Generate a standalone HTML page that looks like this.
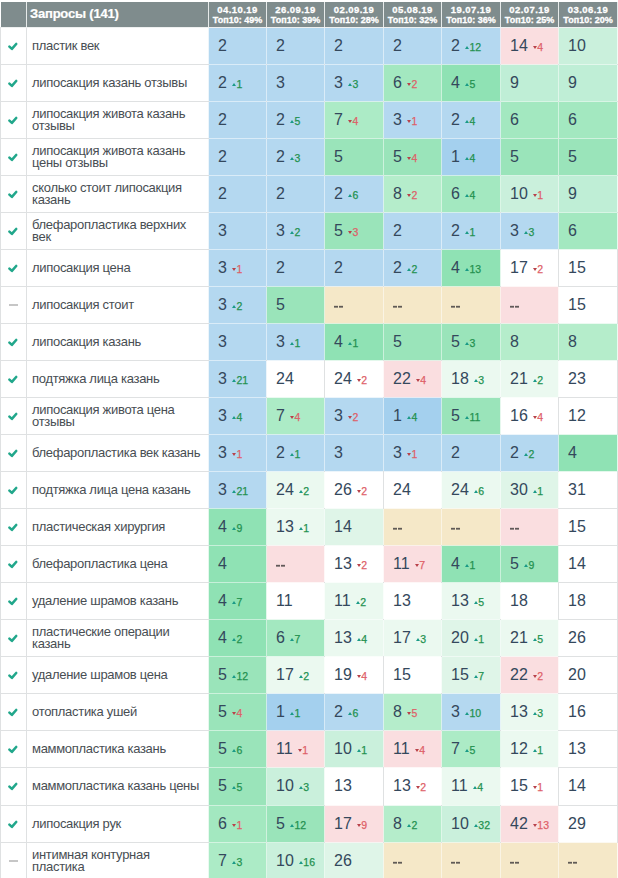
<!DOCTYPE html><html><head><meta charset="utf-8"><style>
*{margin:0;padding:0;box-sizing:border-box}
html,body{width:618px;height:878px;overflow:hidden;background:#fff}
body{position:relative;font-family:"Liberation Sans",sans-serif}
.a{position:absolute}
.hd{position:absolute;background:#7f8c8d;color:#fff;font-weight:bold}
.vl{position:absolute;width:1px;background:#dfe1e2}
.hl{position:absolute;height:1px;background:#dfe1e2}
.q{position:absolute;color:#484e53;font-size:13px;line-height:11.6px;white-space:nowrap;letter-spacing:-0.3px}
.n{position:absolute;color:#34485c;font-size:16px;line-height:16px;white-space:nowrap}
.d{font-size:10.5px;position:relative;margin-left:1.1px}
.up{color:#23914f;-webkit-text-stroke:0.25px #23914f}.dn{color:#de6068;-webkit-text-stroke:0.25px #de6068}
.tri{display:inline-block;width:0;height:0;border-left:2px solid transparent;border-right:2px solid transparent;vertical-align:baseline;position:relative}
.up .tri{border-bottom:3px solid #1a9a86;top:-2px;margin-right:0}
.dn .tri{border-top:3px solid #b8424a;top:-2px;margin-right:0}
.dd{width:4px;height:3px;background:linear-gradient(rgba(70,66,66,.15) 0,rgba(70,66,66,.15) 1px,rgba(70,66,66,.85) 1px,rgba(70,66,66,.85) 2px,rgba(70,66,66,.55) 2px)}
.dash{position:absolute;color:#333;font-size:11px;line-height:11px;letter-spacing:0.5px}
</style></head><body>

<div class="hd" style="left:1px;top:2px;width:25px;height:25px"></div>
<div class="hd" style="left:27px;top:2px;width:181px;height:25px"></div>
<div class="a" style="left:30px;top:7px;color:#fff;font-weight:bold;font-size:13px;line-height:13px;white-space:nowrap;letter-spacing:-0.2px;-webkit-text-stroke:0.2px #fff">Запросы (141)</div>
<div class="hd" style="left:209px;top:2px;width:57px;height:25px"></div>
<div class="a" style="left:209px;top:5px;width:57px;text-align:center;color:#fff;font-weight:bold;font-size:9.5px;line-height:9px;letter-spacing:0.45px;-webkit-text-stroke:0.3px #fff">04.10.19</div>
<div class="a" style="left:209px;top:15.5px;width:57px;text-align:center;color:#fff;font-weight:bold;font-size:9px;line-height:9px;-webkit-text-stroke:0.3px #fff">Топ10: 49%</div>
<div class="hd" style="left:267px;top:2px;width:57px;height:25px"></div>
<div class="a" style="left:267px;top:5px;width:57px;text-align:center;color:#fff;font-weight:bold;font-size:9.5px;line-height:9px;letter-spacing:0.45px;-webkit-text-stroke:0.3px #fff">26.09.19</div>
<div class="a" style="left:267px;top:15.5px;width:57px;text-align:center;color:#fff;font-weight:bold;font-size:9px;line-height:9px;-webkit-text-stroke:0.3px #fff">Топ10: 39%</div>
<div class="hd" style="left:325px;top:2px;width:58px;height:25px"></div>
<div class="a" style="left:325px;top:5px;width:58px;text-align:center;color:#fff;font-weight:bold;font-size:9.5px;line-height:9px;letter-spacing:0.45px;-webkit-text-stroke:0.3px #fff">02.09.19</div>
<div class="a" style="left:325px;top:15.5px;width:58px;text-align:center;color:#fff;font-weight:bold;font-size:9px;line-height:9px;-webkit-text-stroke:0.3px #fff">Топ10: 28%</div>
<div class="hd" style="left:384px;top:2px;width:57px;height:25px"></div>
<div class="a" style="left:384px;top:5px;width:57px;text-align:center;color:#fff;font-weight:bold;font-size:9.5px;line-height:9px;letter-spacing:0.45px;-webkit-text-stroke:0.3px #fff">05.08.19</div>
<div class="a" style="left:384px;top:15.5px;width:57px;text-align:center;color:#fff;font-weight:bold;font-size:9px;line-height:9px;-webkit-text-stroke:0.3px #fff">Топ10: 32%</div>
<div class="hd" style="left:442px;top:2px;width:58px;height:25px"></div>
<div class="a" style="left:442px;top:5px;width:58px;text-align:center;color:#fff;font-weight:bold;font-size:9.5px;line-height:9px;letter-spacing:0.45px;-webkit-text-stroke:0.3px #fff">19.07.19</div>
<div class="a" style="left:442px;top:15.5px;width:58px;text-align:center;color:#fff;font-weight:bold;font-size:9px;line-height:9px;-webkit-text-stroke:0.3px #fff">Топ10: 36%</div>
<div class="hd" style="left:501px;top:2px;width:57px;height:25px"></div>
<div class="a" style="left:501px;top:5px;width:57px;text-align:center;color:#fff;font-weight:bold;font-size:9.5px;line-height:9px;letter-spacing:0.45px;-webkit-text-stroke:0.3px #fff">02.07.19</div>
<div class="a" style="left:501px;top:15.5px;width:57px;text-align:center;color:#fff;font-weight:bold;font-size:9px;line-height:9px;-webkit-text-stroke:0.3px #fff">Топ10: 25%</div>
<div class="hd" style="left:559px;top:2px;width:58px;height:25px"></div>
<div class="a" style="left:559px;top:5px;width:58px;text-align:center;color:#fff;font-weight:bold;font-size:9.5px;line-height:9px;letter-spacing:0.45px;-webkit-text-stroke:0.3px #fff">03.06.19</div>
<div class="a" style="left:559px;top:15.5px;width:58px;text-align:center;color:#fff;font-weight:bold;font-size:9px;line-height:9px;-webkit-text-stroke:0.3px #fff">Топ10: 20%</div>
<div class="a" style="left:209px;top:28px;width:57px;height:36px;background:#b4d8f0"></div>
<div class="n" style="left:218px;top:37.5px">2</div>
<div class="a" style="left:267px;top:28px;width:57px;height:36px;background:#b4d8f0"></div>
<div class="n" style="left:276px;top:37.5px">2</div>
<div class="a" style="left:325px;top:28px;width:58px;height:36px;background:#b4d8f0"></div>
<div class="n" style="left:334px;top:37.5px">2</div>
<div class="a" style="left:384px;top:28px;width:57px;height:36px;background:#b4d8f0"></div>
<div class="n" style="left:393px;top:37.5px">2</div>
<div class="a" style="left:442px;top:28px;width:58px;height:36px;background:#b4d8f0"></div>
<div class="n" style="left:451px;top:37.5px">2 <span class="d up"><i class="tri"></i>12</span></div>
<div class="a" style="left:501px;top:28px;width:57px;height:36px;background:#fadee0"></div>
<div class="n" style="left:510px;top:37.5px">14 <span class="d dn"><i class="tri"></i>4</span></div>
<div class="a" style="left:559px;top:28px;width:58px;height:36px;background:#caf0dc"></div>
<div class="n" style="left:568px;top:37.5px">10</div>
<svg class="a" style="left:0;top:27px" width="26" height="36" viewBox="0 0 26 36"><polyline points="9.4,19.6 11.9,21.9 16.2,17.0" fill="none" stroke="#21a78b" stroke-width="2.6" stroke-linecap="round" stroke-linejoin="round"/></svg>
<div class="q" style="left:32px;top:40px">пластик век</div>
<div class="a" style="left:209px;top:65px;width:57px;height:36px;background:#b4d8f0"></div>
<div class="n" style="left:218px;top:74.5px">2 <span class="d up"><i class="tri"></i>1</span></div>
<div class="a" style="left:267px;top:65px;width:57px;height:36px;background:#b4d8f0"></div>
<div class="n" style="left:276px;top:74.5px">3</div>
<div class="a" style="left:325px;top:65px;width:58px;height:36px;background:#b4d8f0"></div>
<div class="n" style="left:334px;top:74.5px">3 <span class="d up"><i class="tri"></i>3</span></div>
<div class="a" style="left:384px;top:65px;width:57px;height:36px;background:#a3e8c0"></div>
<div class="n" style="left:393px;top:74.5px">6 <span class="d dn"><i class="tri"></i>2</span></div>
<div class="a" style="left:442px;top:65px;width:58px;height:36px;background:#8fe2b4"></div>
<div class="n" style="left:451px;top:74.5px">4 <span class="d up"><i class="tri"></i>5</span></div>
<div class="a" style="left:501px;top:65px;width:57px;height:36px;background:#bfeed6"></div>
<div class="n" style="left:510px;top:74.5px">9</div>
<div class="a" style="left:559px;top:65px;width:58px;height:36px;background:#bfeed6"></div>
<div class="n" style="left:568px;top:74.5px">9</div>
<svg class="a" style="left:0;top:64px" width="26" height="36" viewBox="0 0 26 36"><polyline points="9.4,19.6 11.9,21.9 16.2,17.0" fill="none" stroke="#21a78b" stroke-width="2.6" stroke-linecap="round" stroke-linejoin="round"/></svg>
<div class="q" style="left:32px;top:77px">липосакция казань отзывы</div>
<div class="a" style="left:209px;top:102px;width:57px;height:36px;background:#b4d8f0"></div>
<div class="n" style="left:218px;top:111.5px">2</div>
<div class="a" style="left:267px;top:102px;width:57px;height:36px;background:#b4d8f0"></div>
<div class="n" style="left:276px;top:111.5px">2 <span class="d up"><i class="tri"></i>5</span></div>
<div class="a" style="left:325px;top:102px;width:58px;height:36px;background:#acebc6"></div>
<div class="n" style="left:334px;top:111.5px">7 <span class="d dn"><i class="tri"></i>4</span></div>
<div class="a" style="left:384px;top:102px;width:57px;height:36px;background:#b4d8f0"></div>
<div class="n" style="left:393px;top:111.5px">3 <span class="d dn"><i class="tri"></i>1</span></div>
<div class="a" style="left:442px;top:102px;width:58px;height:36px;background:#b4d8f0"></div>
<div class="n" style="left:451px;top:111.5px">2 <span class="d up"><i class="tri"></i>4</span></div>
<div class="a" style="left:501px;top:102px;width:57px;height:36px;background:#a3e8c0"></div>
<div class="n" style="left:510px;top:111.5px">6</div>
<div class="a" style="left:559px;top:102px;width:58px;height:36px;background:#a3e8c0"></div>
<div class="n" style="left:568px;top:111.5px">6</div>
<svg class="a" style="left:0;top:101px" width="26" height="36" viewBox="0 0 26 36"><polyline points="9.4,19.6 11.9,21.9 16.2,17.0" fill="none" stroke="#21a78b" stroke-width="2.6" stroke-linecap="round" stroke-linejoin="round"/></svg>
<div class="q" style="left:32px;top:108px">липосакция живота казань<br>отзывы</div>
<div class="a" style="left:209px;top:139px;width:57px;height:36px;background:#b4d8f0"></div>
<div class="n" style="left:218px;top:148.5px">2</div>
<div class="a" style="left:267px;top:139px;width:57px;height:36px;background:#b4d8f0"></div>
<div class="n" style="left:276px;top:148.5px">2 <span class="d up"><i class="tri"></i>3</span></div>
<div class="a" style="left:325px;top:139px;width:58px;height:36px;background:#9ae4ba"></div>
<div class="n" style="left:334px;top:148.5px">5</div>
<div class="a" style="left:384px;top:139px;width:57px;height:36px;background:#9ae4ba"></div>
<div class="n" style="left:393px;top:148.5px">5 <span class="d dn"><i class="tri"></i>4</span></div>
<div class="a" style="left:442px;top:139px;width:58px;height:36px;background:#a4d0ee"></div>
<div class="n" style="left:451px;top:148.5px">1 <span class="d up"><i class="tri"></i>4</span></div>
<div class="a" style="left:501px;top:139px;width:57px;height:36px;background:#9ae4ba"></div>
<div class="n" style="left:510px;top:148.5px">5</div>
<div class="a" style="left:559px;top:139px;width:58px;height:36px;background:#9ae4ba"></div>
<div class="n" style="left:568px;top:148.5px">5</div>
<svg class="a" style="left:0;top:138px" width="26" height="36" viewBox="0 0 26 36"><polyline points="9.4,19.6 11.9,21.9 16.2,17.0" fill="none" stroke="#21a78b" stroke-width="2.6" stroke-linecap="round" stroke-linejoin="round"/></svg>
<div class="q" style="left:32px;top:145px">липосакция живота казань<br>цены отзывы</div>
<div class="a" style="left:209px;top:176px;width:57px;height:36px;background:#b4d8f0"></div>
<div class="n" style="left:218px;top:185.5px">2</div>
<div class="a" style="left:267px;top:176px;width:57px;height:36px;background:#b4d8f0"></div>
<div class="n" style="left:276px;top:185.5px">2</div>
<div class="a" style="left:325px;top:176px;width:58px;height:36px;background:#b4d8f0"></div>
<div class="n" style="left:334px;top:185.5px">2 <span class="d up"><i class="tri"></i>6</span></div>
<div class="a" style="left:384px;top:176px;width:57px;height:36px;background:#b5edcb"></div>
<div class="n" style="left:393px;top:185.5px">8 <span class="d dn"><i class="tri"></i>2</span></div>
<div class="a" style="left:442px;top:176px;width:58px;height:36px;background:#a3e8c0"></div>
<div class="n" style="left:451px;top:185.5px">6 <span class="d up"><i class="tri"></i>4</span></div>
<div class="a" style="left:501px;top:176px;width:57px;height:36px;background:#caf0dc"></div>
<div class="n" style="left:510px;top:185.5px">10 <span class="d dn"><i class="tri"></i>1</span></div>
<div class="a" style="left:559px;top:176px;width:58px;height:36px;background:#bfeed6"></div>
<div class="n" style="left:568px;top:185.5px">9</div>
<svg class="a" style="left:0;top:175px" width="26" height="36" viewBox="0 0 26 36"><polyline points="9.4,19.6 11.9,21.9 16.2,17.0" fill="none" stroke="#21a78b" stroke-width="2.6" stroke-linecap="round" stroke-linejoin="round"/></svg>
<div class="q" style="left:32px;top:182px">сколько стоит липосакция<br>казань</div>
<div class="a" style="left:209px;top:213px;width:57px;height:36px;background:#b4d8f0"></div>
<div class="n" style="left:218px;top:222.5px">3</div>
<div class="a" style="left:267px;top:213px;width:57px;height:36px;background:#b4d8f0"></div>
<div class="n" style="left:276px;top:222.5px">3 <span class="d up"><i class="tri"></i>2</span></div>
<div class="a" style="left:325px;top:213px;width:58px;height:36px;background:#9ae4ba"></div>
<div class="n" style="left:334px;top:222.5px">5 <span class="d dn"><i class="tri"></i>3</span></div>
<div class="a" style="left:384px;top:213px;width:57px;height:36px;background:#b4d8f0"></div>
<div class="n" style="left:393px;top:222.5px">2</div>
<div class="a" style="left:442px;top:213px;width:58px;height:36px;background:#b4d8f0"></div>
<div class="n" style="left:451px;top:222.5px">2 <span class="d up"><i class="tri"></i>1</span></div>
<div class="a" style="left:501px;top:213px;width:57px;height:36px;background:#b4d8f0"></div>
<div class="n" style="left:510px;top:222.5px">3 <span class="d up"><i class="tri"></i>3</span></div>
<div class="a" style="left:559px;top:213px;width:58px;height:36px;background:#a3e8c0"></div>
<div class="n" style="left:568px;top:222.5px">6</div>
<svg class="a" style="left:0;top:212px" width="26" height="36" viewBox="0 0 26 36"><polyline points="9.4,19.6 11.9,21.9 16.2,17.0" fill="none" stroke="#21a78b" stroke-width="2.6" stroke-linecap="round" stroke-linejoin="round"/></svg>
<div class="q" style="left:32px;top:219px">блефаропластика верхних<br>век</div>
<div class="a" style="left:209px;top:250px;width:57px;height:36px;background:#b4d8f0"></div>
<div class="n" style="left:218px;top:259.5px">3 <span class="d dn"><i class="tri"></i>1</span></div>
<div class="a" style="left:267px;top:250px;width:57px;height:36px;background:#b4d8f0"></div>
<div class="n" style="left:276px;top:259.5px">2</div>
<div class="a" style="left:325px;top:250px;width:58px;height:36px;background:#b4d8f0"></div>
<div class="n" style="left:334px;top:259.5px">2</div>
<div class="a" style="left:384px;top:250px;width:57px;height:36px;background:#b4d8f0"></div>
<div class="n" style="left:393px;top:259.5px">2 <span class="d up"><i class="tri"></i>2</span></div>
<div class="a" style="left:442px;top:250px;width:58px;height:36px;background:#8fe2b4"></div>
<div class="n" style="left:451px;top:259.5px">4 <span class="d up"><i class="tri"></i>13</span></div>
<div class="a" style="left:501px;top:250px;width:57px;height:36px;background:#ffffff"></div>
<div class="n" style="left:510px;top:259.5px">17 <span class="d dn"><i class="tri"></i>2</span></div>
<div class="a" style="left:559px;top:250px;width:58px;height:36px;background:#ffffff"></div>
<div class="n" style="left:568px;top:259.5px">15</div>
<svg class="a" style="left:0;top:249px" width="26" height="36" viewBox="0 0 26 36"><polyline points="9.4,19.6 11.9,21.9 16.2,17.0" fill="none" stroke="#21a78b" stroke-width="2.6" stroke-linecap="round" stroke-linejoin="round"/></svg>
<div class="q" style="left:32px;top:262px">липосакция цена</div>
<div class="a" style="left:209px;top:287px;width:57px;height:36px;background:#b4d8f0"></div>
<div class="n" style="left:218px;top:296.5px">3 <span class="d up"><i class="tri"></i>2</span></div>
<div class="a" style="left:267px;top:287px;width:57px;height:36px;background:#9ae4ba"></div>
<div class="n" style="left:276px;top:296.5px">5</div>
<div class="a" style="left:325px;top:287px;width:58px;height:36px;background:#f5e8c8"></div>
<div class="a dd" style="left:334px;top:305px"></div><div class="a dd" style="left:339px;top:305px"></div>
<div class="a" style="left:384px;top:287px;width:57px;height:36px;background:#f5e8c8"></div>
<div class="a dd" style="left:393px;top:305px"></div><div class="a dd" style="left:398px;top:305px"></div>
<div class="a" style="left:442px;top:287px;width:58px;height:36px;background:#f5e8c8"></div>
<div class="a dd" style="left:451px;top:305px"></div><div class="a dd" style="left:456px;top:305px"></div>
<div class="a" style="left:501px;top:287px;width:57px;height:36px;background:#fadee0"></div>
<div class="a dd" style="left:510px;top:305px"></div><div class="a dd" style="left:515px;top:305px"></div>
<div class="a" style="left:559px;top:287px;width:58px;height:36px;background:#ffffff"></div>
<div class="n" style="left:568px;top:296.5px">15</div>
<div class="a" style="left:9px;top:304px;width:9px;height:2px;background:#c6c6c6"></div>
<div class="q" style="left:32px;top:299px">липосакция стоит</div>
<div class="a" style="left:209px;top:324px;width:57px;height:36px;background:#b4d8f0"></div>
<div class="n" style="left:218px;top:333.5px">3</div>
<div class="a" style="left:267px;top:324px;width:57px;height:36px;background:#b4d8f0"></div>
<div class="n" style="left:276px;top:333.5px">3 <span class="d up"><i class="tri"></i>1</span></div>
<div class="a" style="left:325px;top:324px;width:58px;height:36px;background:#8fe2b4"></div>
<div class="n" style="left:334px;top:333.5px">4 <span class="d up"><i class="tri"></i>1</span></div>
<div class="a" style="left:384px;top:324px;width:57px;height:36px;background:#9ae4ba"></div>
<div class="n" style="left:393px;top:333.5px">5</div>
<div class="a" style="left:442px;top:324px;width:58px;height:36px;background:#9ae4ba"></div>
<div class="n" style="left:451px;top:333.5px">5 <span class="d up"><i class="tri"></i>3</span></div>
<div class="a" style="left:501px;top:324px;width:57px;height:36px;background:#b5edcb"></div>
<div class="n" style="left:510px;top:333.5px">8</div>
<div class="a" style="left:559px;top:324px;width:58px;height:36px;background:#b5edcb"></div>
<div class="n" style="left:568px;top:333.5px">8</div>
<svg class="a" style="left:0;top:323px" width="26" height="36" viewBox="0 0 26 36"><polyline points="9.4,19.6 11.9,21.9 16.2,17.0" fill="none" stroke="#21a78b" stroke-width="2.6" stroke-linecap="round" stroke-linejoin="round"/></svg>
<div class="q" style="left:32px;top:336px">липосакция казань</div>
<div class="a" style="left:209px;top:361px;width:57px;height:36px;background:#b4d8f0"></div>
<div class="n" style="left:218px;top:370.5px">3 <span class="d up"><i class="tri"></i>21</span></div>
<div class="a" style="left:267px;top:361px;width:57px;height:36px;background:#ffffff"></div>
<div class="n" style="left:276px;top:370.5px">24</div>
<div class="a" style="left:325px;top:361px;width:58px;height:36px;background:#ffffff"></div>
<div class="n" style="left:334px;top:370.5px">24 <span class="d dn"><i class="tri"></i>2</span></div>
<div class="a" style="left:384px;top:361px;width:57px;height:36px;background:#fadee0"></div>
<div class="n" style="left:393px;top:370.5px">22 <span class="d dn"><i class="tri"></i>4</span></div>
<div class="a" style="left:442px;top:361px;width:58px;height:36px;background:#ebf9f0"></div>
<div class="n" style="left:451px;top:370.5px">18 <span class="d up"><i class="tri"></i>3</span></div>
<div class="a" style="left:501px;top:361px;width:57px;height:36px;background:#ebf9f0"></div>
<div class="n" style="left:510px;top:370.5px">21 <span class="d up"><i class="tri"></i>2</span></div>
<div class="a" style="left:559px;top:361px;width:58px;height:36px;background:#ffffff"></div>
<div class="n" style="left:568px;top:370.5px">23</div>
<svg class="a" style="left:0;top:360px" width="26" height="36" viewBox="0 0 26 36"><polyline points="9.4,19.6 11.9,21.9 16.2,17.0" fill="none" stroke="#21a78b" stroke-width="2.6" stroke-linecap="round" stroke-linejoin="round"/></svg>
<div class="q" style="left:32px;top:373px">подтяжка лица казань</div>
<div class="a" style="left:209px;top:398px;width:57px;height:36px;background:#b4d8f0"></div>
<div class="n" style="left:218px;top:407.5px">3 <span class="d up"><i class="tri"></i>4</span></div>
<div class="a" style="left:267px;top:398px;width:57px;height:36px;background:#acebc6"></div>
<div class="n" style="left:276px;top:407.5px">7 <span class="d dn"><i class="tri"></i>4</span></div>
<div class="a" style="left:325px;top:398px;width:58px;height:36px;background:#b4d8f0"></div>
<div class="n" style="left:334px;top:407.5px">3 <span class="d dn"><i class="tri"></i>2</span></div>
<div class="a" style="left:384px;top:398px;width:57px;height:36px;background:#a4d0ee"></div>
<div class="n" style="left:393px;top:407.5px">1 <span class="d up"><i class="tri"></i>4</span></div>
<div class="a" style="left:442px;top:398px;width:58px;height:36px;background:#9ae4ba"></div>
<div class="n" style="left:451px;top:407.5px">5 <span class="d up"><i class="tri"></i>11</span></div>
<div class="a" style="left:501px;top:398px;width:57px;height:36px;background:#ffffff"></div>
<div class="n" style="left:510px;top:407.5px">16 <span class="d dn"><i class="tri"></i>4</span></div>
<div class="a" style="left:559px;top:398px;width:58px;height:36px;background:#ffffff"></div>
<div class="n" style="left:568px;top:407.5px">12</div>
<svg class="a" style="left:0;top:397px" width="26" height="36" viewBox="0 0 26 36"><polyline points="9.4,19.6 11.9,21.9 16.2,17.0" fill="none" stroke="#21a78b" stroke-width="2.6" stroke-linecap="round" stroke-linejoin="round"/></svg>
<div class="q" style="left:32px;top:404px">липосакция живота цена<br>отзывы</div>
<div class="a" style="left:209px;top:435px;width:57px;height:36px;background:#b4d8f0"></div>
<div class="n" style="left:218px;top:444.5px">3 <span class="d dn"><i class="tri"></i>1</span></div>
<div class="a" style="left:267px;top:435px;width:57px;height:36px;background:#b4d8f0"></div>
<div class="n" style="left:276px;top:444.5px">2 <span class="d up"><i class="tri"></i>1</span></div>
<div class="a" style="left:325px;top:435px;width:58px;height:36px;background:#b4d8f0"></div>
<div class="n" style="left:334px;top:444.5px">3</div>
<div class="a" style="left:384px;top:435px;width:57px;height:36px;background:#b4d8f0"></div>
<div class="n" style="left:393px;top:444.5px">3 <span class="d dn"><i class="tri"></i>1</span></div>
<div class="a" style="left:442px;top:435px;width:58px;height:36px;background:#b4d8f0"></div>
<div class="n" style="left:451px;top:444.5px">2</div>
<div class="a" style="left:501px;top:435px;width:57px;height:36px;background:#b4d8f0"></div>
<div class="n" style="left:510px;top:444.5px">2 <span class="d up"><i class="tri"></i>2</span></div>
<div class="a" style="left:559px;top:435px;width:58px;height:36px;background:#8fe2b4"></div>
<div class="n" style="left:568px;top:444.5px">4</div>
<svg class="a" style="left:0;top:434px" width="26" height="36" viewBox="0 0 26 36"><polyline points="9.4,19.6 11.9,21.9 16.2,17.0" fill="none" stroke="#21a78b" stroke-width="2.6" stroke-linecap="round" stroke-linejoin="round"/></svg>
<div class="q" style="left:32px;top:447px">блефаропластика век казань</div>
<div class="a" style="left:209px;top:472px;width:57px;height:36px;background:#b4d8f0"></div>
<div class="n" style="left:218px;top:481.5px">3 <span class="d up"><i class="tri"></i>21</span></div>
<div class="a" style="left:267px;top:472px;width:57px;height:36px;background:#ebf9f0"></div>
<div class="n" style="left:276px;top:481.5px">24 <span class="d up"><i class="tri"></i>2</span></div>
<div class="a" style="left:325px;top:472px;width:58px;height:36px;background:#ffffff"></div>
<div class="n" style="left:334px;top:481.5px">26 <span class="d dn"><i class="tri"></i>2</span></div>
<div class="a" style="left:384px;top:472px;width:57px;height:36px;background:#ffffff"></div>
<div class="n" style="left:393px;top:481.5px">24</div>
<div class="a" style="left:442px;top:472px;width:58px;height:36px;background:#ebf9f0"></div>
<div class="n" style="left:451px;top:481.5px">24 <span class="d up"><i class="tri"></i>6</span></div>
<div class="a" style="left:501px;top:472px;width:57px;height:36px;background:#dff5e8"></div>
<div class="n" style="left:510px;top:481.5px">30 <span class="d up"><i class="tri"></i>1</span></div>
<div class="a" style="left:559px;top:472px;width:58px;height:36px;background:#ffffff"></div>
<div class="n" style="left:568px;top:481.5px">31</div>
<svg class="a" style="left:0;top:471px" width="26" height="36" viewBox="0 0 26 36"><polyline points="9.4,19.6 11.9,21.9 16.2,17.0" fill="none" stroke="#21a78b" stroke-width="2.6" stroke-linecap="round" stroke-linejoin="round"/></svg>
<div class="q" style="left:32px;top:484px">подтяжка лица цена казань</div>
<div class="a" style="left:209px;top:509px;width:57px;height:36px;background:#8fe2b4"></div>
<div class="n" style="left:218px;top:518.5px">4 <span class="d up"><i class="tri"></i>9</span></div>
<div class="a" style="left:267px;top:509px;width:57px;height:36px;background:#ebf9f0"></div>
<div class="n" style="left:276px;top:518.5px">13 <span class="d up"><i class="tri"></i>1</span></div>
<div class="a" style="left:325px;top:509px;width:58px;height:36px;background:#dff5e8"></div>
<div class="n" style="left:334px;top:518.5px">14</div>
<div class="a" style="left:384px;top:509px;width:57px;height:36px;background:#f5e8c8"></div>
<div class="a dd" style="left:393px;top:527px"></div><div class="a dd" style="left:398px;top:527px"></div>
<div class="a" style="left:442px;top:509px;width:58px;height:36px;background:#f5e8c8"></div>
<div class="a dd" style="left:451px;top:527px"></div><div class="a dd" style="left:456px;top:527px"></div>
<div class="a" style="left:501px;top:509px;width:57px;height:36px;background:#fadee0"></div>
<div class="a dd" style="left:510px;top:527px"></div><div class="a dd" style="left:515px;top:527px"></div>
<div class="a" style="left:559px;top:509px;width:58px;height:36px;background:#ffffff"></div>
<div class="n" style="left:568px;top:518.5px">15</div>
<svg class="a" style="left:0;top:508px" width="26" height="36" viewBox="0 0 26 36"><polyline points="9.4,19.6 11.9,21.9 16.2,17.0" fill="none" stroke="#21a78b" stroke-width="2.6" stroke-linecap="round" stroke-linejoin="round"/></svg>
<div class="q" style="left:32px;top:521px">пластическая хирургия</div>
<div class="a" style="left:209px;top:546px;width:57px;height:36px;background:#8fe2b4"></div>
<div class="n" style="left:218px;top:555.5px">4</div>
<div class="a" style="left:267px;top:546px;width:57px;height:36px;background:#fadee0"></div>
<div class="a dd" style="left:276px;top:564px"></div><div class="a dd" style="left:281px;top:564px"></div>
<div class="a" style="left:325px;top:546px;width:58px;height:36px;background:#ffffff"></div>
<div class="n" style="left:334px;top:555.5px">13 <span class="d dn"><i class="tri"></i>2</span></div>
<div class="a" style="left:384px;top:546px;width:57px;height:36px;background:#fadee0"></div>
<div class="n" style="left:393px;top:555.5px">11 <span class="d dn"><i class="tri"></i>7</span></div>
<div class="a" style="left:442px;top:546px;width:58px;height:36px;background:#8fe2b4"></div>
<div class="n" style="left:451px;top:555.5px">4 <span class="d up"><i class="tri"></i>1</span></div>
<div class="a" style="left:501px;top:546px;width:57px;height:36px;background:#9ae4ba"></div>
<div class="n" style="left:510px;top:555.5px">5 <span class="d up"><i class="tri"></i>9</span></div>
<div class="a" style="left:559px;top:546px;width:58px;height:36px;background:#ffffff"></div>
<div class="n" style="left:568px;top:555.5px">14</div>
<svg class="a" style="left:0;top:545px" width="26" height="36" viewBox="0 0 26 36"><polyline points="9.4,19.6 11.9,21.9 16.2,17.0" fill="none" stroke="#21a78b" stroke-width="2.6" stroke-linecap="round" stroke-linejoin="round"/></svg>
<div class="q" style="left:32px;top:558px">блефаропластика цена</div>
<div class="a" style="left:209px;top:583px;width:57px;height:36px;background:#8fe2b4"></div>
<div class="n" style="left:218px;top:592.5px">4 <span class="d up"><i class="tri"></i>7</span></div>
<div class="a" style="left:267px;top:583px;width:57px;height:36px;background:#ffffff"></div>
<div class="n" style="left:276px;top:592.5px">11</div>
<div class="a" style="left:325px;top:583px;width:58px;height:36px;background:#ebf9f0"></div>
<div class="n" style="left:334px;top:592.5px">11 <span class="d up"><i class="tri"></i>2</span></div>
<div class="a" style="left:384px;top:583px;width:57px;height:36px;background:#ffffff"></div>
<div class="n" style="left:393px;top:592.5px">13</div>
<div class="a" style="left:442px;top:583px;width:58px;height:36px;background:#ebf9f0"></div>
<div class="n" style="left:451px;top:592.5px">13 <span class="d up"><i class="tri"></i>5</span></div>
<div class="a" style="left:501px;top:583px;width:57px;height:36px;background:#ffffff"></div>
<div class="n" style="left:510px;top:592.5px">18</div>
<div class="a" style="left:559px;top:583px;width:58px;height:36px;background:#ffffff"></div>
<div class="n" style="left:568px;top:592.5px">18</div>
<svg class="a" style="left:0;top:582px" width="26" height="36" viewBox="0 0 26 36"><polyline points="9.4,19.6 11.9,21.9 16.2,17.0" fill="none" stroke="#21a78b" stroke-width="2.6" stroke-linecap="round" stroke-linejoin="round"/></svg>
<div class="q" style="left:32px;top:595px">удаление шрамов казань</div>
<div class="a" style="left:209px;top:620px;width:57px;height:36px;background:#8fe2b4"></div>
<div class="n" style="left:218px;top:629.5px">4 <span class="d up"><i class="tri"></i>2</span></div>
<div class="a" style="left:267px;top:620px;width:57px;height:36px;background:#a3e8c0"></div>
<div class="n" style="left:276px;top:629.5px">6 <span class="d up"><i class="tri"></i>7</span></div>
<div class="a" style="left:325px;top:620px;width:58px;height:36px;background:#ebf9f0"></div>
<div class="n" style="left:334px;top:629.5px">13 <span class="d up"><i class="tri"></i>4</span></div>
<div class="a" style="left:384px;top:620px;width:57px;height:36px;background:#ebf9f0"></div>
<div class="n" style="left:393px;top:629.5px">17 <span class="d up"><i class="tri"></i>3</span></div>
<div class="a" style="left:442px;top:620px;width:58px;height:36px;background:#dff5e8"></div>
<div class="n" style="left:451px;top:629.5px">20 <span class="d up"><i class="tri"></i>1</span></div>
<div class="a" style="left:501px;top:620px;width:57px;height:36px;background:#ebf9f0"></div>
<div class="n" style="left:510px;top:629.5px">21 <span class="d up"><i class="tri"></i>5</span></div>
<div class="a" style="left:559px;top:620px;width:58px;height:36px;background:#ffffff"></div>
<div class="n" style="left:568px;top:629.5px">26</div>
<svg class="a" style="left:0;top:619px" width="26" height="36" viewBox="0 0 26 36"><polyline points="9.4,19.6 11.9,21.9 16.2,17.0" fill="none" stroke="#21a78b" stroke-width="2.6" stroke-linecap="round" stroke-linejoin="round"/></svg>
<div class="q" style="left:32px;top:626px">пластические операции<br>казань</div>
<div class="a" style="left:209px;top:657px;width:57px;height:36px;background:#9ae4ba"></div>
<div class="n" style="left:218px;top:666.5px">5 <span class="d up"><i class="tri"></i>12</span></div>
<div class="a" style="left:267px;top:657px;width:57px;height:36px;background:#ebf9f0"></div>
<div class="n" style="left:276px;top:666.5px">17 <span class="d up"><i class="tri"></i>2</span></div>
<div class="a" style="left:325px;top:657px;width:58px;height:36px;background:#ffffff"></div>
<div class="n" style="left:334px;top:666.5px">19 <span class="d dn"><i class="tri"></i>4</span></div>
<div class="a" style="left:384px;top:657px;width:57px;height:36px;background:#ffffff"></div>
<div class="n" style="left:393px;top:666.5px">15</div>
<div class="a" style="left:442px;top:657px;width:58px;height:36px;background:#dff5e8"></div>
<div class="n" style="left:451px;top:666.5px">15 <span class="d up"><i class="tri"></i>7</span></div>
<div class="a" style="left:501px;top:657px;width:57px;height:36px;background:#fadee0"></div>
<div class="n" style="left:510px;top:666.5px">22 <span class="d dn"><i class="tri"></i>2</span></div>
<div class="a" style="left:559px;top:657px;width:58px;height:36px;background:#ffffff"></div>
<div class="n" style="left:568px;top:666.5px">20</div>
<svg class="a" style="left:0;top:656px" width="26" height="36" viewBox="0 0 26 36"><polyline points="9.4,19.6 11.9,21.9 16.2,17.0" fill="none" stroke="#21a78b" stroke-width="2.6" stroke-linecap="round" stroke-linejoin="round"/></svg>
<div class="q" style="left:32px;top:669px">удаление шрамов цена</div>
<div class="a" style="left:209px;top:694px;width:57px;height:36px;background:#9ae4ba"></div>
<div class="n" style="left:218px;top:703.5px">5 <span class="d dn"><i class="tri"></i>4</span></div>
<div class="a" style="left:267px;top:694px;width:57px;height:36px;background:#a4d0ee"></div>
<div class="n" style="left:276px;top:703.5px">1 <span class="d up"><i class="tri"></i>1</span></div>
<div class="a" style="left:325px;top:694px;width:58px;height:36px;background:#b4d8f0"></div>
<div class="n" style="left:334px;top:703.5px">2 <span class="d up"><i class="tri"></i>6</span></div>
<div class="a" style="left:384px;top:694px;width:57px;height:36px;background:#b5edcb"></div>
<div class="n" style="left:393px;top:703.5px">8 <span class="d dn"><i class="tri"></i>5</span></div>
<div class="a" style="left:442px;top:694px;width:58px;height:36px;background:#b4d8f0"></div>
<div class="n" style="left:451px;top:703.5px">3 <span class="d up"><i class="tri"></i>10</span></div>
<div class="a" style="left:501px;top:694px;width:57px;height:36px;background:#ebf9f0"></div>
<div class="n" style="left:510px;top:703.5px">13 <span class="d up"><i class="tri"></i>3</span></div>
<div class="a" style="left:559px;top:694px;width:58px;height:36px;background:#ffffff"></div>
<div class="n" style="left:568px;top:703.5px">16</div>
<svg class="a" style="left:0;top:693px" width="26" height="36" viewBox="0 0 26 36"><polyline points="9.4,19.6 11.9,21.9 16.2,17.0" fill="none" stroke="#21a78b" stroke-width="2.6" stroke-linecap="round" stroke-linejoin="round"/></svg>
<div class="q" style="left:32px;top:706px">отопластика ушей</div>
<div class="a" style="left:209px;top:731px;width:57px;height:36px;background:#9ae4ba"></div>
<div class="n" style="left:218px;top:740.5px">5 <span class="d up"><i class="tri"></i>6</span></div>
<div class="a" style="left:267px;top:731px;width:57px;height:36px;background:#fadee0"></div>
<div class="n" style="left:276px;top:740.5px">11 <span class="d dn"><i class="tri"></i>1</span></div>
<div class="a" style="left:325px;top:731px;width:58px;height:36px;background:#caf0dc"></div>
<div class="n" style="left:334px;top:740.5px">10 <span class="d up"><i class="tri"></i>1</span></div>
<div class="a" style="left:384px;top:731px;width:57px;height:36px;background:#fadee0"></div>
<div class="n" style="left:393px;top:740.5px">11 <span class="d dn"><i class="tri"></i>4</span></div>
<div class="a" style="left:442px;top:731px;width:58px;height:36px;background:#acebc6"></div>
<div class="n" style="left:451px;top:740.5px">7 <span class="d up"><i class="tri"></i>5</span></div>
<div class="a" style="left:501px;top:731px;width:57px;height:36px;background:#ebf9f0"></div>
<div class="n" style="left:510px;top:740.5px">12 <span class="d up"><i class="tri"></i>1</span></div>
<div class="a" style="left:559px;top:731px;width:58px;height:36px;background:#ffffff"></div>
<div class="n" style="left:568px;top:740.5px">13</div>
<svg class="a" style="left:0;top:730px" width="26" height="36" viewBox="0 0 26 36"><polyline points="9.4,19.6 11.9,21.9 16.2,17.0" fill="none" stroke="#21a78b" stroke-width="2.6" stroke-linecap="round" stroke-linejoin="round"/></svg>
<div class="q" style="left:32px;top:743px">маммопластика казань</div>
<div class="a" style="left:209px;top:768px;width:57px;height:37px;background:#9ae4ba"></div>
<div class="n" style="left:218px;top:777.5px">5 <span class="d up"><i class="tri"></i>5</span></div>
<div class="a" style="left:267px;top:768px;width:57px;height:37px;background:#caf0dc"></div>
<div class="n" style="left:276px;top:777.5px">10 <span class="d up"><i class="tri"></i>3</span></div>
<div class="a" style="left:325px;top:768px;width:58px;height:37px;background:#ffffff"></div>
<div class="n" style="left:334px;top:777.5px">13</div>
<div class="a" style="left:384px;top:768px;width:57px;height:37px;background:#ffffff"></div>
<div class="n" style="left:393px;top:777.5px">13 <span class="d dn"><i class="tri"></i>2</span></div>
<div class="a" style="left:442px;top:768px;width:58px;height:37px;background:#ebf9f0"></div>
<div class="n" style="left:451px;top:777.5px">11 <span class="d up"><i class="tri"></i>4</span></div>
<div class="a" style="left:501px;top:768px;width:57px;height:37px;background:#ffffff"></div>
<div class="n" style="left:510px;top:777.5px">15 <span class="d dn"><i class="tri"></i>1</span></div>
<div class="a" style="left:559px;top:768px;width:58px;height:37px;background:#ffffff"></div>
<div class="n" style="left:568px;top:777.5px">14</div>
<svg class="a" style="left:0;top:767px" width="26" height="36" viewBox="0 0 26 36"><polyline points="9.4,19.6 11.9,21.9 16.2,17.0" fill="none" stroke="#21a78b" stroke-width="2.6" stroke-linecap="round" stroke-linejoin="round"/></svg>
<div class="q" style="left:32px;top:780px">маммопластика казань цены</div>
<div class="a" style="left:209px;top:806px;width:57px;height:36px;background:#a3e8c0"></div>
<div class="n" style="left:218px;top:815.5px">6 <span class="d dn"><i class="tri"></i>1</span></div>
<div class="a" style="left:267px;top:806px;width:57px;height:36px;background:#9ae4ba"></div>
<div class="n" style="left:276px;top:815.5px">5 <span class="d up"><i class="tri"></i>12</span></div>
<div class="a" style="left:325px;top:806px;width:58px;height:36px;background:#fadee0"></div>
<div class="n" style="left:334px;top:815.5px">17 <span class="d dn"><i class="tri"></i>9</span></div>
<div class="a" style="left:384px;top:806px;width:57px;height:36px;background:#b5edcb"></div>
<div class="n" style="left:393px;top:815.5px">8 <span class="d up"><i class="tri"></i>2</span></div>
<div class="a" style="left:442px;top:806px;width:58px;height:36px;background:#caf0dc"></div>
<div class="n" style="left:451px;top:815.5px">10 <span class="d up"><i class="tri"></i>32</span></div>
<div class="a" style="left:501px;top:806px;width:57px;height:36px;background:#fadee0"></div>
<div class="n" style="left:510px;top:815.5px">42 <span class="d dn"><i class="tri"></i>13</span></div>
<div class="a" style="left:559px;top:806px;width:58px;height:36px;background:#ffffff"></div>
<div class="n" style="left:568px;top:815.5px">29</div>
<svg class="a" style="left:0;top:805px" width="26" height="36" viewBox="0 0 26 36"><polyline points="9.4,19.6 11.9,21.9 16.2,17.0" fill="none" stroke="#21a78b" stroke-width="2.6" stroke-linecap="round" stroke-linejoin="round"/></svg>
<div class="q" style="left:32px;top:818px">липосакция рук</div>
<div class="a" style="left:209px;top:843px;width:57px;height:36px;background:#acebc6"></div>
<div class="n" style="left:218px;top:852.5px">7 <span class="d up"><i class="tri"></i>3</span></div>
<div class="a" style="left:267px;top:843px;width:57px;height:36px;background:#caf0dc"></div>
<div class="n" style="left:276px;top:852.5px">10 <span class="d up"><i class="tri"></i>16</span></div>
<div class="a" style="left:325px;top:843px;width:58px;height:36px;background:#dff5e8"></div>
<div class="n" style="left:334px;top:852.5px">26</div>
<div class="a" style="left:384px;top:843px;width:57px;height:36px;background:#f5e8c8"></div>
<div class="a dd" style="left:393px;top:861px"></div><div class="a dd" style="left:398px;top:861px"></div>
<div class="a" style="left:442px;top:843px;width:58px;height:36px;background:#f5e8c8"></div>
<div class="a dd" style="left:451px;top:861px"></div><div class="a dd" style="left:456px;top:861px"></div>
<div class="a" style="left:501px;top:843px;width:57px;height:36px;background:#f5e8c8"></div>
<div class="a dd" style="left:510px;top:861px"></div><div class="a dd" style="left:515px;top:861px"></div>
<div class="a" style="left:559px;top:843px;width:58px;height:36px;background:#f5e8c8"></div>
<div class="a dd" style="left:568px;top:861px"></div><div class="a dd" style="left:573px;top:861px"></div>
<div class="a" style="left:9px;top:860px;width:9px;height:2px;background:#c6c6c6"></div>
<div class="q" style="left:32px;top:849px">интимная контурная<br>пластика</div>
<div class="hl" style="left:0;top:27px;width:618px"></div>
<div class="hl" style="left:0;top:64px;width:618px"></div>
<div class="hl" style="left:0;top:101px;width:618px"></div>
<div class="hl" style="left:0;top:138px;width:618px"></div>
<div class="hl" style="left:0;top:175px;width:618px"></div>
<div class="hl" style="left:0;top:212px;width:618px"></div>
<div class="hl" style="left:0;top:249px;width:618px"></div>
<div class="hl" style="left:0;top:286px;width:618px"></div>
<div class="hl" style="left:0;top:323px;width:618px"></div>
<div class="hl" style="left:0;top:360px;width:618px"></div>
<div class="hl" style="left:0;top:397px;width:618px"></div>
<div class="hl" style="left:0;top:434px;width:618px"></div>
<div class="hl" style="left:0;top:471px;width:618px"></div>
<div class="hl" style="left:0;top:508px;width:618px"></div>
<div class="hl" style="left:0;top:545px;width:618px"></div>
<div class="hl" style="left:0;top:582px;width:618px"></div>
<div class="hl" style="left:0;top:619px;width:618px"></div>
<div class="hl" style="left:0;top:656px;width:618px"></div>
<div class="hl" style="left:0;top:693px;width:618px"></div>
<div class="hl" style="left:0;top:730px;width:618px"></div>
<div class="hl" style="left:0;top:767px;width:618px"></div>
<div class="hl" style="left:0;top:805px;width:618px"></div>
<div class="hl" style="left:0;top:842px;width:618px"></div>
<div class="hl" style="left:0;top:879px;width:618px"></div>
<div class="vl" style="left:0px;top:27px;height:851px"></div>
<div class="vl" style="left:26px;top:27px;height:851px"></div>
<div class="vl" style="left:208px;top:27px;height:851px"></div>
<div class="vl" style="left:266px;top:27px;height:851px"></div>
<div class="vl" style="left:324px;top:27px;height:851px"></div>
<div class="vl" style="left:383px;top:27px;height:851px"></div>
<div class="vl" style="left:441px;top:27px;height:851px"></div>
<div class="vl" style="left:500px;top:27px;height:851px"></div>
<div class="vl" style="left:558px;top:27px;height:851px"></div>
<div class="vl" style="left:617px;top:27px;height:851px"></div>
<div class="a" style="left:1px;top:27px;width:617px;height:1px;background:#eef0f0"></div>
<div class="a" style="left:208px;top:28px;width:1px;height:36px;background:#ecf5fb"></div>
<div class="a" style="left:266px;top:28px;width:1px;height:36px;background:#daecf8"></div>
<div class="a" style="left:324px;top:28px;width:1px;height:36px;background:#daecf8"></div>
<div class="a" style="left:383px;top:28px;width:1px;height:36px;background:#daecf8"></div>
<div class="a" style="left:441px;top:28px;width:1px;height:36px;background:#daecf8"></div>
<div class="a" style="left:500px;top:28px;width:1px;height:36px;background:#ebedf4"></div>
<div class="a" style="left:558px;top:28px;width:1px;height:36px;background:#f0f3ee"></div>
<div class="a" style="left:617px;top:28px;width:1px;height:36px;background:#f2fbf6"></div>
<div class="a" style="left:208px;top:65px;width:1px;height:36px;background:#ecf5fb"></div>
<div class="a" style="left:266px;top:65px;width:1px;height:36px;background:#daecf8"></div>
<div class="a" style="left:324px;top:65px;width:1px;height:36px;background:#daecf8"></div>
<div class="a" style="left:383px;top:65px;width:1px;height:36px;background:#d5f0ec"></div>
<div class="a" style="left:441px;top:65px;width:1px;height:36px;background:#ccf2dc"></div>
<div class="a" style="left:500px;top:65px;width:1px;height:36px;background:#d3f4e2"></div>
<div class="a" style="left:558px;top:65px;width:1px;height:36px;background:#dff6ea"></div>
<div class="a" style="left:617px;top:65px;width:1px;height:36px;background:#effbf5"></div>
<div class="a" style="left:208px;top:102px;width:1px;height:36px;background:#ecf5fb"></div>
<div class="a" style="left:266px;top:102px;width:1px;height:36px;background:#daecf8"></div>
<div class="a" style="left:324px;top:102px;width:1px;height:36px;background:#d8f0ed"></div>
<div class="a" style="left:383px;top:102px;width:1px;height:36px;background:#d8f0ed"></div>
<div class="a" style="left:441px;top:102px;width:1px;height:36px;background:#daecf8"></div>
<div class="a" style="left:500px;top:102px;width:1px;height:36px;background:#d5f0ec"></div>
<div class="a" style="left:558px;top:102px;width:1px;height:36px;background:#d1f4e0"></div>
<div class="a" style="left:617px;top:102px;width:1px;height:36px;background:#e8f9ef"></div>
<div class="a" style="left:208px;top:139px;width:1px;height:36px;background:#ecf5fb"></div>
<div class="a" style="left:266px;top:139px;width:1px;height:36px;background:#daecf8"></div>
<div class="a" style="left:324px;top:139px;width:1px;height:36px;background:#d3eeea"></div>
<div class="a" style="left:383px;top:139px;width:1px;height:36px;background:#ccf2dc"></div>
<div class="a" style="left:441px;top:139px;width:1px;height:36px;background:#cfecea"></div>
<div class="a" style="left:500px;top:139px;width:1px;height:36px;background:#cfecea"></div>
<div class="a" style="left:558px;top:139px;width:1px;height:36px;background:#ccf2dc"></div>
<div class="a" style="left:617px;top:139px;width:1px;height:36px;background:#e6f8ee"></div>
<div class="a" style="left:208px;top:176px;width:1px;height:36px;background:#ecf5fb"></div>
<div class="a" style="left:266px;top:176px;width:1px;height:36px;background:#daecf8"></div>
<div class="a" style="left:324px;top:176px;width:1px;height:36px;background:#daecf8"></div>
<div class="a" style="left:383px;top:176px;width:1px;height:36px;background:#daf1ee"></div>
<div class="a" style="left:441px;top:176px;width:1px;height:36px;background:#d6f5e2"></div>
<div class="a" style="left:500px;top:176px;width:1px;height:36px;background:#dbf6e6"></div>
<div class="a" style="left:558px;top:176px;width:1px;height:36px;background:#e2f7ec"></div>
<div class="a" style="left:617px;top:176px;width:1px;height:36px;background:#effbf5"></div>
<div class="a" style="left:208px;top:213px;width:1px;height:36px;background:#ecf5fb"></div>
<div class="a" style="left:266px;top:213px;width:1px;height:36px;background:#daecf8"></div>
<div class="a" style="left:324px;top:213px;width:1px;height:36px;background:#d3eeea"></div>
<div class="a" style="left:383px;top:213px;width:1px;height:36px;background:#d3eeea"></div>
<div class="a" style="left:441px;top:213px;width:1px;height:36px;background:#daecf8"></div>
<div class="a" style="left:500px;top:213px;width:1px;height:36px;background:#daecf8"></div>
<div class="a" style="left:558px;top:213px;width:1px;height:36px;background:#d5f0ec"></div>
<div class="a" style="left:617px;top:213px;width:1px;height:36px;background:#e8f9ef"></div>
<div class="a" style="left:208px;top:250px;width:1px;height:36px;background:#ecf5fb"></div>
<div class="a" style="left:266px;top:250px;width:1px;height:36px;background:#daecf8"></div>
<div class="a" style="left:324px;top:250px;width:1px;height:36px;background:#daecf8"></div>
<div class="a" style="left:383px;top:250px;width:1px;height:36px;background:#daecf8"></div>
<div class="a" style="left:441px;top:250px;width:1px;height:36px;background:#d0eee8"></div>
<div class="a" style="left:500px;top:250px;width:1px;height:36px;background:#e3f8ec"></div>
<div class="a" style="left:208px;top:287px;width:1px;height:36px;background:#ecf5fb"></div>
<div class="a" style="left:266px;top:287px;width:1px;height:36px;background:#d3eeea"></div>
<div class="a" style="left:324px;top:287px;width:1px;height:36px;background:#e3f2e0"></div>
<div class="a" style="left:383px;top:287px;width:1px;height:36px;background:#faf4e4"></div>
<div class="a" style="left:441px;top:287px;width:1px;height:36px;background:#faf4e4"></div>
<div class="a" style="left:500px;top:287px;width:1px;height:36px;background:#fbf1ea"></div>
<div class="a" style="left:558px;top:287px;width:1px;height:36px;background:#fef7f7"></div>
<div class="a" style="left:208px;top:324px;width:1px;height:36px;background:#ecf5fb"></div>
<div class="a" style="left:266px;top:324px;width:1px;height:36px;background:#daecf8"></div>
<div class="a" style="left:324px;top:324px;width:1px;height:36px;background:#d0eee8"></div>
<div class="a" style="left:383px;top:324px;width:1px;height:36px;background:#caf1db"></div>
<div class="a" style="left:441px;top:324px;width:1px;height:36px;background:#ccf2dc"></div>
<div class="a" style="left:500px;top:324px;width:1px;height:36px;background:#d3f4e1"></div>
<div class="a" style="left:558px;top:324px;width:1px;height:36px;background:#daf6e5"></div>
<div class="a" style="left:617px;top:324px;width:1px;height:36px;background:#ecfaf2"></div>
<div class="a" style="left:208px;top:361px;width:1px;height:36px;background:#ecf5fb"></div>
<div class="a" style="left:266px;top:361px;width:1px;height:36px;background:#ecf5fb"></div>
<div class="a" style="left:383px;top:361px;width:1px;height:36px;background:#fef7f7"></div>
<div class="a" style="left:441px;top:361px;width:1px;height:36px;background:#f9f5f4"></div>
<div class="a" style="left:500px;top:361px;width:1px;height:36px;background:#f5fcf8"></div>
<div class="a" style="left:558px;top:361px;width:1px;height:36px;background:#fafefb"></div>
<div class="a" style="left:208px;top:398px;width:1px;height:36px;background:#ecf5fb"></div>
<div class="a" style="left:266px;top:398px;width:1px;height:36px;background:#d8f0ed"></div>
<div class="a" style="left:324px;top:398px;width:1px;height:36px;background:#d8f0ed"></div>
<div class="a" style="left:383px;top:398px;width:1px;height:36px;background:#d6eaf7"></div>
<div class="a" style="left:441px;top:398px;width:1px;height:36px;background:#cfecea"></div>
<div class="a" style="left:500px;top:398px;width:1px;height:36px;background:#e6f8ee"></div>
<div class="a" style="left:208px;top:435px;width:1px;height:36px;background:#ecf5fb"></div>
<div class="a" style="left:266px;top:435px;width:1px;height:36px;background:#daecf8"></div>
<div class="a" style="left:324px;top:435px;width:1px;height:36px;background:#daecf8"></div>
<div class="a" style="left:383px;top:435px;width:1px;height:36px;background:#daecf8"></div>
<div class="a" style="left:441px;top:435px;width:1px;height:36px;background:#daecf8"></div>
<div class="a" style="left:500px;top:435px;width:1px;height:36px;background:#daecf8"></div>
<div class="a" style="left:558px;top:435px;width:1px;height:36px;background:#d0eee8"></div>
<div class="a" style="left:617px;top:435px;width:1px;height:36px;background:#e3f8ec"></div>
<div class="a" style="left:208px;top:472px;width:1px;height:36px;background:#ecf5fb"></div>
<div class="a" style="left:266px;top:472px;width:1px;height:36px;background:#e7f4f8"></div>
<div class="a" style="left:324px;top:472px;width:1px;height:36px;background:#fafefb"></div>
<div class="a" style="left:441px;top:472px;width:1px;height:36px;background:#fafefb"></div>
<div class="a" style="left:500px;top:472px;width:1px;height:36px;background:#f2fbf6"></div>
<div class="a" style="left:558px;top:472px;width:1px;height:36px;background:#f7fcf9"></div>
<div class="a" style="left:208px;top:509px;width:1px;height:36px;background:#e3f8ec"></div>
<div class="a" style="left:266px;top:509px;width:1px;height:36px;background:#def6e8"></div>
<div class="a" style="left:324px;top:509px;width:1px;height:36px;background:#f2fbf6"></div>
<div class="a" style="left:383px;top:509px;width:1px;height:36px;background:#f4f7ec"></div>
<div class="a" style="left:441px;top:509px;width:1px;height:36px;background:#faf4e4"></div>
<div class="a" style="left:500px;top:509px;width:1px;height:36px;background:#fbf1ea"></div>
<div class="a" style="left:558px;top:509px;width:1px;height:36px;background:#fef7f7"></div>
<div class="a" style="left:208px;top:546px;width:1px;height:36px;background:#e3f8ec"></div>
<div class="a" style="left:266px;top:546px;width:1px;height:36px;background:#e2f0e4"></div>
<div class="a" style="left:324px;top:546px;width:1px;height:36px;background:#fef7f7"></div>
<div class="a" style="left:383px;top:546px;width:1px;height:36px;background:#fef7f7"></div>
<div class="a" style="left:441px;top:546px;width:1px;height:36px;background:#e2f0e4"></div>
<div class="a" style="left:500px;top:546px;width:1px;height:36px;background:#caf1db"></div>
<div class="a" style="left:558px;top:546px;width:1px;height:36px;background:#e6f8ee"></div>
<div class="a" style="left:208px;top:583px;width:1px;height:36px;background:#e3f8ec"></div>
<div class="a" style="left:266px;top:583px;width:1px;height:36px;background:#e3f8ec"></div>
<div class="a" style="left:324px;top:583px;width:1px;height:36px;background:#fafefb"></div>
<div class="a" style="left:383px;top:583px;width:1px;height:36px;background:#fafefb"></div>
<div class="a" style="left:441px;top:583px;width:1px;height:36px;background:#fafefb"></div>
<div class="a" style="left:500px;top:583px;width:1px;height:36px;background:#fafefb"></div>
<div class="a" style="left:208px;top:620px;width:1px;height:36px;background:#e3f8ec"></div>
<div class="a" style="left:266px;top:620px;width:1px;height:36px;background:#ccf2dc"></div>
<div class="a" style="left:324px;top:620px;width:1px;height:36px;background:#e3f8ec"></div>
<div class="a" style="left:383px;top:620px;width:1px;height:36px;background:#f5fcf8"></div>
<div class="a" style="left:441px;top:620px;width:1px;height:36px;background:#f2fbf6"></div>
<div class="a" style="left:500px;top:620px;width:1px;height:36px;background:#f2fbf6"></div>
<div class="a" style="left:558px;top:620px;width:1px;height:36px;background:#fafefb"></div>
<div class="a" style="left:208px;top:657px;width:1px;height:36px;background:#e6f8ee"></div>
<div class="a" style="left:266px;top:657px;width:1px;height:36px;background:#e1f7ea"></div>
<div class="a" style="left:324px;top:657px;width:1px;height:36px;background:#fafefb"></div>
<div class="a" style="left:441px;top:657px;width:1px;height:36px;background:#f7fcf9"></div>
<div class="a" style="left:500px;top:657px;width:1px;height:36px;background:#f6f4f2"></div>
<div class="a" style="left:558px;top:657px;width:1px;height:36px;background:#fef7f7"></div>
<div class="a" style="left:208px;top:694px;width:1px;height:36px;background:#e6f8ee"></div>
<div class="a" style="left:266px;top:694px;width:1px;height:36px;background:#cfecea"></div>
<div class="a" style="left:324px;top:694px;width:1px;height:36px;background:#d6eaf7"></div>
<div class="a" style="left:383px;top:694px;width:1px;height:36px;background:#daf1ee"></div>
<div class="a" style="left:441px;top:694px;width:1px;height:36px;background:#daf1ee"></div>
<div class="a" style="left:500px;top:694px;width:1px;height:36px;background:#e7f4f8"></div>
<div class="a" style="left:558px;top:694px;width:1px;height:36px;background:#fafefb"></div>
<div class="a" style="left:208px;top:731px;width:1px;height:36px;background:#e6f8ee"></div>
<div class="a" style="left:266px;top:731px;width:1px;height:36px;background:#e4f0e6"></div>
<div class="a" style="left:324px;top:731px;width:1px;height:36px;background:#f0f3ee"></div>
<div class="a" style="left:383px;top:731px;width:1px;height:36px;background:#f0f3ee"></div>
<div class="a" style="left:441px;top:731px;width:1px;height:36px;background:#e9f2e9"></div>
<div class="a" style="left:500px;top:731px;width:1px;height:36px;background:#e5f8ed"></div>
<div class="a" style="left:558px;top:731px;width:1px;height:36px;background:#fafefb"></div>
<div class="a" style="left:208px;top:768px;width:1px;height:37px;background:#e6f8ee"></div>
<div class="a" style="left:266px;top:768px;width:1px;height:37px;background:#d8f4e5"></div>
<div class="a" style="left:324px;top:768px;width:1px;height:37px;background:#f2fbf6"></div>
<div class="a" style="left:441px;top:768px;width:1px;height:37px;background:#fafefb"></div>
<div class="a" style="left:500px;top:768px;width:1px;height:37px;background:#fafefb"></div>
<div class="a" style="left:208px;top:806px;width:1px;height:36px;background:#e8f9ef"></div>
<div class="a" style="left:266px;top:806px;width:1px;height:36px;background:#cff2de"></div>
<div class="a" style="left:324px;top:806px;width:1px;height:36px;background:#e4f0e6"></div>
<div class="a" style="left:383px;top:806px;width:1px;height:36px;background:#ebf2ea"></div>
<div class="a" style="left:441px;top:806px;width:1px;height:36px;background:#dff7e9"></div>
<div class="a" style="left:500px;top:806px;width:1px;height:36px;background:#f0f3ee"></div>
<div class="a" style="left:558px;top:806px;width:1px;height:36px;background:#fef7f7"></div>
<div class="a" style="left:208px;top:843px;width:1px;height:36px;background:#eafaf1"></div>
<div class="a" style="left:266px;top:843px;width:1px;height:36px;background:#ddf6e8"></div>
<div class="a" style="left:324px;top:843px;width:1px;height:36px;background:#eaf9f0"></div>
<div class="a" style="left:383px;top:843px;width:1px;height:36px;background:#f4f7ec"></div>
<div class="a" style="left:441px;top:843px;width:1px;height:36px;background:#faf4e4"></div>
<div class="a" style="left:500px;top:843px;width:1px;height:36px;background:#faf4e4"></div>
<div class="a" style="left:558px;top:843px;width:1px;height:36px;background:#faf4e4"></div>
<div class="a" style="left:617px;top:843px;width:1px;height:36px;background:#fcf9f1"></div>
<div class="a" style="left:209px;top:64px;width:57px;height:1px;background:#daecf8"></div>
<div class="a" style="left:267px;top:64px;width:57px;height:1px;background:#daecf8"></div>
<div class="a" style="left:325px;top:64px;width:58px;height:1px;background:#daecf8"></div>
<div class="a" style="left:384px;top:64px;width:57px;height:1px;background:#d5f0ec"></div>
<div class="a" style="left:442px;top:64px;width:58px;height:1px;background:#d0eee8"></div>
<div class="a" style="left:501px;top:64px;width:57px;height:1px;background:#eef2ed"></div>
<div class="a" style="left:559px;top:64px;width:58px;height:1px;background:#e2f7ec"></div>
<div class="a" style="left:209px;top:101px;width:57px;height:1px;background:#daecf8"></div>
<div class="a" style="left:267px;top:101px;width:57px;height:1px;background:#daecf8"></div>
<div class="a" style="left:325px;top:101px;width:58px;height:1px;background:#d8f0ed"></div>
<div class="a" style="left:384px;top:101px;width:57px;height:1px;background:#d5f0ec"></div>
<div class="a" style="left:442px;top:101px;width:58px;height:1px;background:#d0eee8"></div>
<div class="a" style="left:501px;top:101px;width:57px;height:1px;background:#d8f5e5"></div>
<div class="a" style="left:559px;top:101px;width:58px;height:1px;background:#d8f5e5"></div>
<div class="a" style="left:209px;top:138px;width:57px;height:1px;background:#daecf8"></div>
<div class="a" style="left:267px;top:138px;width:57px;height:1px;background:#daecf8"></div>
<div class="a" style="left:325px;top:138px;width:58px;height:1px;background:#d1f3e0"></div>
<div class="a" style="left:384px;top:138px;width:57px;height:1px;background:#d3eeea"></div>
<div class="a" style="left:442px;top:138px;width:58px;height:1px;background:#d6eaf7"></div>
<div class="a" style="left:501px;top:138px;width:57px;height:1px;background:#cff2de"></div>
<div class="a" style="left:559px;top:138px;width:58px;height:1px;background:#cff2de"></div>
<div class="a" style="left:209px;top:175px;width:57px;height:1px;background:#daecf8"></div>
<div class="a" style="left:267px;top:175px;width:57px;height:1px;background:#daecf8"></div>
<div class="a" style="left:325px;top:175px;width:58px;height:1px;background:#d3eeea"></div>
<div class="a" style="left:384px;top:175px;width:57px;height:1px;background:#d3f4e1"></div>
<div class="a" style="left:442px;top:175px;width:58px;height:1px;background:#d1eeeb"></div>
<div class="a" style="left:501px;top:175px;width:57px;height:1px;background:#d8f4e5"></div>
<div class="a" style="left:559px;top:175px;width:58px;height:1px;background:#d6f4e4"></div>
<div class="a" style="left:209px;top:212px;width:57px;height:1px;background:#daecf8"></div>
<div class="a" style="left:267px;top:212px;width:57px;height:1px;background:#daecf8"></div>
<div class="a" style="left:325px;top:212px;width:58px;height:1px;background:#d3eeea"></div>
<div class="a" style="left:384px;top:212px;width:57px;height:1px;background:#daf1ee"></div>
<div class="a" style="left:442px;top:212px;width:58px;height:1px;background:#d5f0ec"></div>
<div class="a" style="left:501px;top:212px;width:57px;height:1px;background:#dff2f2"></div>
<div class="a" style="left:559px;top:212px;width:58px;height:1px;background:#d8f5e5"></div>
<div class="a" style="left:209px;top:249px;width:57px;height:1px;background:#daecf8"></div>
<div class="a" style="left:267px;top:249px;width:57px;height:1px;background:#daecf8"></div>
<div class="a" style="left:325px;top:249px;width:58px;height:1px;background:#d3eeea"></div>
<div class="a" style="left:384px;top:249px;width:57px;height:1px;background:#daecf8"></div>
<div class="a" style="left:442px;top:249px;width:58px;height:1px;background:#d0eee8"></div>
<div class="a" style="left:501px;top:249px;width:57px;height:1px;background:#ecf5fb"></div>
<div class="a" style="left:559px;top:249px;width:58px;height:1px;background:#e8f9ef"></div>
<div class="a" style="left:209px;top:286px;width:57px;height:1px;background:#daecf8"></div>
<div class="a" style="left:267px;top:286px;width:57px;height:1px;background:#d3eeea"></div>
<div class="a" style="left:325px;top:286px;width:58px;height:1px;background:#eaf0ee"></div>
<div class="a" style="left:384px;top:286px;width:57px;height:1px;background:#eaf0ee"></div>
<div class="a" style="left:442px;top:286px;width:58px;height:1px;background:#e0f2de"></div>
<div class="a" style="left:501px;top:286px;width:57px;height:1px;background:#fef7f7"></div>
<div class="a" style="left:209px;top:323px;width:57px;height:1px;background:#daecf8"></div>
<div class="a" style="left:267px;top:323px;width:57px;height:1px;background:#d3eeea"></div>
<div class="a" style="left:325px;top:323px;width:58px;height:1px;background:#e0f2de"></div>
<div class="a" style="left:384px;top:323px;width:57px;height:1px;background:#e3f2e0"></div>
<div class="a" style="left:442px;top:323px;width:58px;height:1px;background:#e3f2e0"></div>
<div class="a" style="left:501px;top:323px;width:57px;height:1px;background:#ebf2ea"></div>
<div class="a" style="left:559px;top:323px;width:58px;height:1px;background:#ecfaf2"></div>
<div class="a" style="left:209px;top:360px;width:57px;height:1px;background:#daecf8"></div>
<div class="a" style="left:267px;top:360px;width:57px;height:1px;background:#ecf5fb"></div>
<div class="a" style="left:325px;top:360px;width:58px;height:1px;background:#e3f8ec"></div>
<div class="a" style="left:384px;top:360px;width:57px;height:1px;background:#e4f0e6"></div>
<div class="a" style="left:442px;top:360px;width:58px;height:1px;background:#e1f7ea"></div>
<div class="a" style="left:501px;top:360px;width:57px;height:1px;background:#e8f9ee"></div>
<div class="a" style="left:559px;top:360px;width:58px;height:1px;background:#ecfaf2"></div>
<div class="a" style="left:209px;top:397px;width:57px;height:1px;background:#daecf8"></div>
<div class="a" style="left:267px;top:397px;width:57px;height:1px;background:#eafaf1"></div>
<div class="a" style="left:325px;top:397px;width:58px;height:1px;background:#ecf5fb"></div>
<div class="a" style="left:384px;top:397px;width:57px;height:1px;background:#e7ebf3"></div>
<div class="a" style="left:442px;top:397px;width:58px;height:1px;background:#e1f7ea"></div>
<div class="a" style="left:501px;top:397px;width:57px;height:1px;background:#fafefb"></div>
<div class="a" style="left:209px;top:434px;width:57px;height:1px;background:#daecf8"></div>
<div class="a" style="left:267px;top:434px;width:57px;height:1px;background:#d8f0ed"></div>
<div class="a" style="left:325px;top:434px;width:58px;height:1px;background:#daecf8"></div>
<div class="a" style="left:384px;top:434px;width:57px;height:1px;background:#d6eaf7"></div>
<div class="a" style="left:442px;top:434px;width:58px;height:1px;background:#d3eeea"></div>
<div class="a" style="left:501px;top:434px;width:57px;height:1px;background:#ecf5fb"></div>
<div class="a" style="left:559px;top:434px;width:58px;height:1px;background:#e3f8ec"></div>
<div class="a" style="left:209px;top:471px;width:57px;height:1px;background:#daecf8"></div>
<div class="a" style="left:267px;top:471px;width:57px;height:1px;background:#e7f4f8"></div>
<div class="a" style="left:325px;top:471px;width:58px;height:1px;background:#ecf5fb"></div>
<div class="a" style="left:384px;top:471px;width:57px;height:1px;background:#ecf5fb"></div>
<div class="a" style="left:442px;top:471px;width:58px;height:1px;background:#e7f4f8"></div>
<div class="a" style="left:501px;top:471px;width:57px;height:1px;background:#e4f3f6"></div>
<div class="a" style="left:559px;top:471px;width:58px;height:1px;background:#e3f8ec"></div>
<div class="a" style="left:209px;top:508px;width:57px;height:1px;background:#d0eee8"></div>
<div class="a" style="left:267px;top:508px;width:57px;height:1px;background:#f5fcf8"></div>
<div class="a" style="left:325px;top:508px;width:58px;height:1px;background:#f7fcf9"></div>
<div class="a" style="left:384px;top:508px;width:57px;height:1px;background:#fcf9f1"></div>
<div class="a" style="left:442px;top:508px;width:58px;height:1px;background:#f8f8ee"></div>
<div class="a" style="left:501px;top:508px;width:57px;height:1px;background:#f6f4f2"></div>
<div class="a" style="left:209px;top:545px;width:57px;height:1px;background:#c7f0da"></div>
<div class="a" style="left:267px;top:545px;width:57px;height:1px;background:#f9f5f4"></div>
<div class="a" style="left:325px;top:545px;width:58px;height:1px;background:#f7fcf9"></div>
<div class="a" style="left:384px;top:545px;width:57px;height:1px;background:#fbf1ea"></div>
<div class="a" style="left:442px;top:545px;width:58px;height:1px;background:#e0f2de"></div>
<div class="a" style="left:501px;top:545px;width:57px;height:1px;background:#e4f0e6"></div>
<div class="a" style="left:209px;top:582px;width:57px;height:1px;background:#c7f0da"></div>
<div class="a" style="left:267px;top:582px;width:57px;height:1px;background:#fef7f7"></div>
<div class="a" style="left:325px;top:582px;width:58px;height:1px;background:#fafefb"></div>
<div class="a" style="left:384px;top:582px;width:57px;height:1px;background:#fef7f7"></div>
<div class="a" style="left:442px;top:582px;width:58px;height:1px;background:#def6e8"></div>
<div class="a" style="left:501px;top:582px;width:57px;height:1px;background:#e6f8ee"></div>
<div class="a" style="left:209px;top:619px;width:57px;height:1px;background:#c7f0da"></div>
<div class="a" style="left:267px;top:619px;width:57px;height:1px;background:#e8f9ef"></div>
<div class="a" style="left:325px;top:619px;width:58px;height:1px;background:#f5fcf8"></div>
<div class="a" style="left:384px;top:619px;width:57px;height:1px;background:#fafefb"></div>
<div class="a" style="left:442px;top:619px;width:58px;height:1px;background:#f2fbf6"></div>
<div class="a" style="left:501px;top:619px;width:57px;height:1px;background:#fafefb"></div>
<div class="a" style="left:209px;top:656px;width:57px;height:1px;background:#caf1db"></div>
<div class="a" style="left:267px;top:656px;width:57px;height:1px;background:#e3f8ec"></div>
<div class="a" style="left:325px;top:656px;width:58px;height:1px;background:#fafefb"></div>
<div class="a" style="left:384px;top:656px;width:57px;height:1px;background:#fafefb"></div>
<div class="a" style="left:442px;top:656px;width:58px;height:1px;background:#effaf4"></div>
<div class="a" style="left:501px;top:656px;width:57px;height:1px;background:#f9f5f4"></div>
<div class="a" style="left:209px;top:693px;width:57px;height:1px;background:#ccf2dc"></div>
<div class="a" style="left:267px;top:693px;width:57px;height:1px;background:#e3f2f7"></div>
<div class="a" style="left:325px;top:693px;width:58px;height:1px;background:#ecf5fb"></div>
<div class="a" style="left:384px;top:693px;width:57px;height:1px;background:#ecfaf2"></div>
<div class="a" style="left:442px;top:693px;width:58px;height:1px;background:#e4f3f6"></div>
<div class="a" style="left:501px;top:693px;width:57px;height:1px;background:#f9f5f4"></div>
<div class="a" style="left:209px;top:730px;width:57px;height:1px;background:#ccf2dc"></div>
<div class="a" style="left:267px;top:730px;width:57px;height:1px;background:#e7ebf3"></div>
<div class="a" style="left:325px;top:730px;width:58px;height:1px;background:#dff2f2"></div>
<div class="a" style="left:384px;top:730px;width:57px;height:1px;background:#ebf2ea"></div>
<div class="a" style="left:442px;top:730px;width:58px;height:1px;background:#d8f0ed"></div>
<div class="a" style="left:501px;top:730px;width:57px;height:1px;background:#f5fcf8"></div>
<div class="a" style="left:209px;top:767px;width:57px;height:1px;background:#ccf2dc"></div>
<div class="a" style="left:267px;top:767px;width:57px;height:1px;background:#f0f3ee"></div>
<div class="a" style="left:325px;top:767px;width:58px;height:1px;background:#f2fbf6"></div>
<div class="a" style="left:384px;top:767px;width:57px;height:1px;background:#fef7f7"></div>
<div class="a" style="left:442px;top:767px;width:58px;height:1px;background:#e5f8ed"></div>
<div class="a" style="left:501px;top:767px;width:57px;height:1px;background:#fafefb"></div>
<div class="a" style="left:209px;top:805px;width:57px;height:1px;background:#cff2de"></div>
<div class="a" style="left:267px;top:805px;width:57px;height:1px;background:#d8f4e5"></div>
<div class="a" style="left:325px;top:805px;width:58px;height:1px;background:#fef7f7"></div>
<div class="a" style="left:384px;top:805px;width:57px;height:1px;background:#ecfaf2"></div>
<div class="a" style="left:442px;top:805px;width:58px;height:1px;background:#edfaf2"></div>
<div class="a" style="left:501px;top:805px;width:57px;height:1px;background:#fef7f7"></div>
<div class="a" style="left:209px;top:842px;width:57px;height:1px;background:#d3f4e1"></div>
<div class="a" style="left:267px;top:842px;width:57px;height:1px;background:#d8f4e5"></div>
<div class="a" style="left:325px;top:842px;width:58px;height:1px;background:#f6f4f2"></div>
<div class="a" style="left:384px;top:842px;width:57px;height:1px;background:#eaf5e4"></div>
<div class="a" style="left:442px;top:842px;width:58px;height:1px;background:#eff6e8"></div>
<div class="a" style="left:501px;top:842px;width:57px;height:1px;background:#fbf1ea"></div>
<div class="a" style="left:559px;top:842px;width:58px;height:1px;background:#fcf9f1"></div>
<div class="a" style="left:209px;top:879px;width:57px;height:1px;background:#eafaf1"></div>
<div class="a" style="left:267px;top:879px;width:57px;height:1px;background:#f2fbf6"></div>
<div class="a" style="left:325px;top:879px;width:58px;height:1px;background:#f7fcf9"></div>
<div class="a" style="left:384px;top:879px;width:57px;height:1px;background:#fcf9f1"></div>
<div class="a" style="left:442px;top:879px;width:58px;height:1px;background:#fcf9f1"></div>
<div class="a" style="left:501px;top:879px;width:57px;height:1px;background:#fcf9f1"></div>
<div class="a" style="left:559px;top:879px;width:58px;height:1px;background:#fcf9f1"></div>
<div class="a" style="left:26px;top:2px;width:1px;height:25px;background:#e6eaea"></div>
<div class="a" style="left:208px;top:2px;width:1px;height:25px;background:#e6eaea"></div>
<div class="a" style="left:266px;top:2px;width:1px;height:25px;background:#e6eaea"></div>
<div class="a" style="left:324px;top:2px;width:1px;height:25px;background:#e6eaea"></div>
<div class="a" style="left:383px;top:2px;width:1px;height:25px;background:#e6eaea"></div>
<div class="a" style="left:441px;top:2px;width:1px;height:25px;background:#e6eaea"></div>
<div class="a" style="left:500px;top:2px;width:1px;height:25px;background:#e6eaea"></div>
<div class="a" style="left:558px;top:2px;width:1px;height:25px;background:#e6eaea"></div>
<div class="a" style="left:617px;top:2px;width:1px;height:25px;background:#e6eaea"></div>
</body></html>
